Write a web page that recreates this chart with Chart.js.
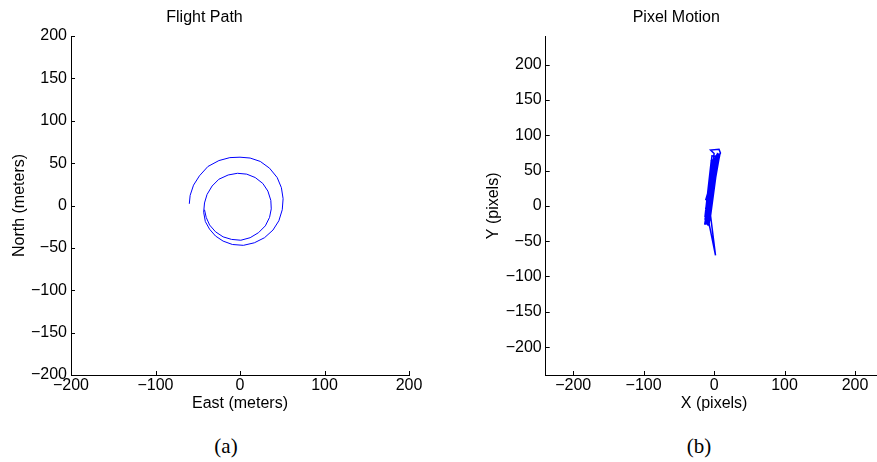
<!DOCTYPE html>
<html>
<head>
<meta charset="utf-8">
<script src="https://cdn.jsdelivr.net/npm/chart.js@4.4.1/dist/chart.umd.min.js"></script>
<style>
  html, body { margin: 0; padding: 0; background: #fff; overflow: hidden; }
  #page { position: relative; width: 877px; height: 462px; overflow: hidden; background: #fff; }
  canvas { position: absolute; top: 0; }
  #flight { left: 0; }
  #pixel { left: 470px; }
  .cap { position: absolute; top: 434px; width: 60px; text-align: center;
         font-family: "Liberation Serif", "Times New Roman", serif; font-size: 21px; color: #000; }
</style>
</head>
<body>
<div id="page">
  <canvas id="flight" width="430" height="420"></canvas>
  <canvas id="pixel" width="418" height="420"></canvas>
  <div class="cap" style="left:196px">(a)</div>
  <div class="cap" style="left:669px">(b)</div>
</div>
<script>
// flight path (east, north) in meters
const eastPos = [-60, -59, -55, -48, -38, -25, -12, 0, 12, 24, 35, 44, 49, 51, 50, 46, 39, 29, 17, 4,
    -9, -20, -29, -36, -41, -43, -42, -39, -33, -25, -14, -3, 8, 18, 27, 33, 36.5, 37, 35, 30,
    22, 12, 1, -10, -20, -29, -36, -40, -42];
const northPos = [2, 12, 24, 35, 46, 53, 56.5, 57, 56, 52, 44, 33, 21, 8, -5, -18, -29, -38, -44, -47,
    -46, -42, -36, -28, -19, -8, 3, 13, 23, 31, 36, 38, 37, 33, 26, 17, 6, -4, -14, -24,
    -32, -38, -41, -40, -37, -31, -23, -14, -5];

// pixel motion (x, y) in pixels
const pixelX = [-4, -12, 3, -13, 6, -10, -2, -12, 7, -9, -1, -13, 4, -8, 8, -11, -3, -12, 5, -9,
    2, -13, -4, -7, 2, -5, 6, -12, 4, -10, 8, -6, -10, 0, -5, 7, 9, 7, -3, -11,
    -8, 1, -12, 5, -7, -9, -2, -11, 3, -6, -13, 0, -4, 6, -10, -7, 2, -12, -5, -8, 4];
const pixelY = [62, -22, 72, -27, 70, -25, 66, -12, 74, -28, 58, -20, 68, -18, 73, -26, 50, -5, 75, -23,
    70, -16, 64, -26, -70, -14, 68, 8, 62, -15, 72, 30, -27, 74, 79, 80, 75, 70, 71, 0,
    -22, 45, -10, 66, -24, 20, 40, -8, 60, -20, -24, 56, 10, 71, -18, 35, 65, -26, 48, -2, 73];

const flightXTicks = [-200, -100, 0, 100, 200];
const flightYTicks = [-200, -150, -100, -50, 0, 50, 100, 150, 200];
const pixelXTicks = [-200, -100, 0, 100, 200];
const pixelYTicks = [-200, -150, -100, -50, 0, 50, 100, 150, 200];

const FONT = "'Liberation Sans', Arial, Helvetica, sans-serif";

function toPoints(xs, ys) {
    return xs.map((x, i) => ({ x: x, y: ys[i] }));
}

function fmt(v) {
    return v < 0 ? "\u2212" + Math.abs(v) : String(v);
}

// matlab style ticks pointing into the axes
const inwardTicks = {
    id: "inwardTicks",
    afterDraw(chart) {
        const ctx = chart.ctx, a = chart.chartArea;
        const xs = chart.scales.x, ys = chart.scales.y;
        ctx.save();
        ctx.strokeStyle = "#000";
        ctx.lineWidth = 1;
        ctx.beginPath();
        xs.ticks.forEach(t => {
            const px = Math.round(xs.getPixelForValue(t.value)) + 0.5;
            ctx.moveTo(px, a.bottom);
            ctx.lineTo(px, a.bottom - 4);
        });
        ys.ticks.forEach(t => {
            const py = Math.round(ys.getPixelForValue(t.value)) + 0.5;
            ctx.moveTo(a.left, py);
            ctx.lineTo(a.left + 4, py);
        });
        ctx.stroke();
        ctx.restore();
    }
};

function makeChart(id, cfg) {
    const axisBase = {
        type: "linear",
        grid: { display: true, drawOnChartArea: false, drawTicks: false },
        border: { display: true, color: "#000", width: 1 },
        ticks: { color: "#000", font: { family: FONT, size: 16 }, callback: fmt }
    };
    return new Chart(document.getElementById(id), {
        type: "scatter",
        data: {
            datasets: [{
                data: toPoints(cfg.xs, cfg.ys),
                showLine: true,
                borderColor: "#0000ff",
                borderWidth: cfg.lw,
                pointRadius: 0,
                tension: 0,
                fill: false
            }]
        },
        options: {
            responsive: false,
            animation: false,
            events: [],
            layout: { padding: cfg.pad },
            plugins: {
                legend: { display: false },
                tooltip: { enabled: false },
                title: {
                    display: true,
                    text: cfg.title,
                    color: "#000",
                    font: { family: FONT, size: 16, weight: "normal" },
                    padding: cfg.titlePad
                }
            },
            scales: {
                x: Object.assign({}, axisBase, {
                    min: cfg.xMin, max: cfg.xMax,
                    ticks: Object.assign({}, axisBase.ticks, { padding: 1, maxRotation: 0, autoSkip: false }),
                    afterBuildTicks: s => { s.ticks = cfg.xTicks.map(v => ({ value: v })); },
                    afterFit: s => { s.height = 38.5; },
                    title: { display: true, text: cfg.xLabel, color: "#000",
                             font: { family: FONT, size: 16 }, padding: { top: 0, bottom: 0 } }
                }),
                y: Object.assign({}, axisBase, {
                    min: cfg.yMin, max: cfg.yMax,
                    ticks: Object.assign({}, axisBase.ticks, { padding: 4, autoSkip: false }),
                    afterBuildTicks: s => { s.ticks = cfg.yTicks.map(v => ({ value: v })); },
                    afterFit: s => { s.width = cfg.yWidth; },
                    title: { display: true, text: cfg.yLabel, color: "#000",
                             font: { family: FONT, size: 16 }, padding: { top: cfg.yTitleOff, bottom: 0 } }
                })
            }
        },
        plugins: [inwardTicks]
    });
}

makeChart("flight", {
    title: "Flight Path", xLabel: "East (meters)", yLabel: "North (meters)",
    xs: eastPos, ys: northPos, lw: 1,
    xMin: -200, xMax: 200, yMin: -200, yMax: 200,
    xTicks: flightXTicks, yTicks: flightYTicks,
    yWidth: 71, yTitleOff: 10,
    pad: { left: 0, top: 0, right: 21, bottom: 6.5 },
    titlePad: { top: 8, bottom: 8.8 }
});

makeChart("pixel", {
    title: "Pixel Motion", xLabel: "X (pixels)", yLabel: "Y (pixels)",
    xs: pixelX, ys: pixelY, lw: 1.5,
    xMin: -239, xMax: 239, yMin: -239.5, yMax: 239.5,
    xTicks: pixelXTicks, yTicks: pixelYTicks,
    yWidth: 75.7, yTitleOff: 13.9,
    pad: { left: 0, top: 0, right: 5.5, bottom: 6.5 },
    titlePad: { top: 8, bottom: 9.5 }
});
</script>
</body>
</html>
